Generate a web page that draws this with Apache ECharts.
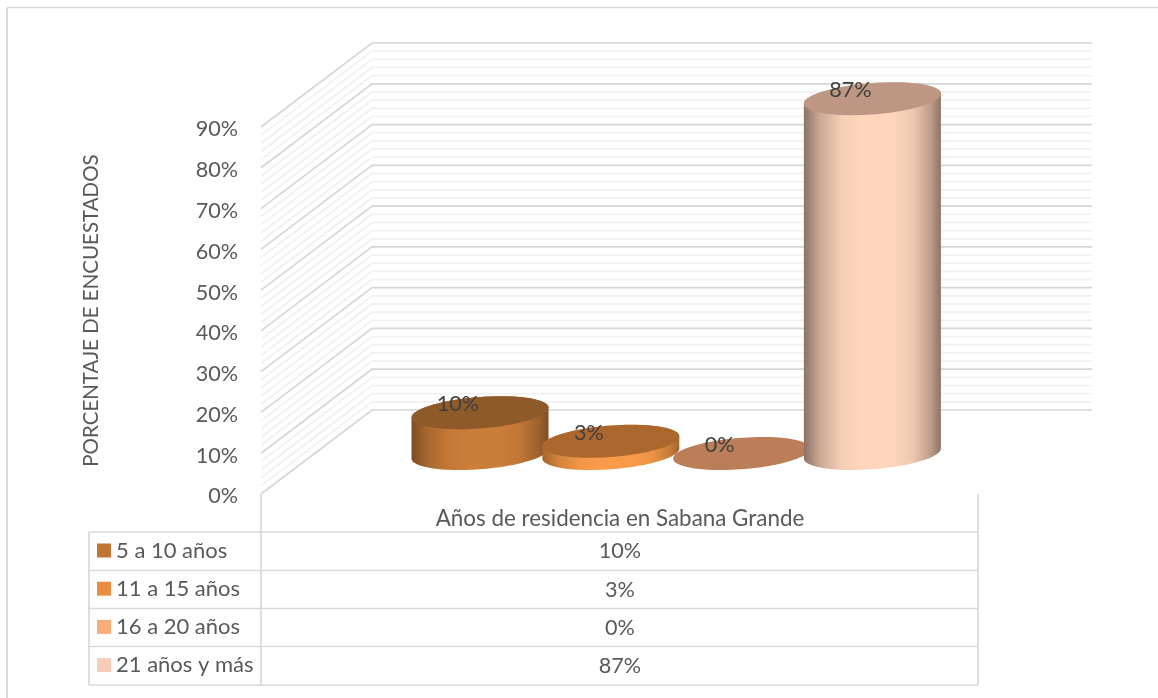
<!DOCTYPE html>
<html><head><meta charset="utf-8">
<style>html,body{margin:0;padding:0;background:#fff}#c{width:1158px;height:698px}</style>
<script src="https://cdn.jsdelivr.net/npm/echarts@6/dist/echarts.min.js"></script>
</head><body><div id="c"></div>
<script>
const seriesNames = ['5 a 10 años','11 a 15 años','16 a 20 años','21 años y más'];
const seriesValues = [10,3,0,87];
const slots = [0,1,2,3];
const gridValues = [];
for (let v=0;v<=90;v+=2) gridValues.push(v);
const axisTitle = 'PORCENTAJE DE ENCUESTADOS';
const categoryLabel = 'Años de residencia en Sabana Grande';

const legendColors = ['#c0752f','#ea8d40','#f7ac7a','#f8cbb8'];
const looks = [
  {top:'#8f5a2a', edge:'#7e4d22', mid:'#cb7d3a'},
  {top:'#ac672f', edge:'#a5652c', mid:'#f99b49'},
  {top:'#bb7e58', edge:'#bb7e58', mid:'#bb7e58'},
  {top:'#bd9784', edge:'#8d7264', mid:'#fed6bd'}
];
const FONT = 'Lato';
const TXT = '#595959';
const A = 68.7, B = 15.7, TILT = -4.4*Math.PI/180;
const DEPTH_Y = 40.5, WALL_DX = 111, WALL_DY = 84;
const SHADE = [[0,0],[.12,.55],[.28,.92],[.42,1],[.65,1],[.8,.85],[.93,.4],[1,0]];

function mix(a,b,t){
  const h=s=>[1,3,5].map(k=>parseInt(s.substr(k,2),16));
  const ca=h(a),cb=h(b);
  return 'rgb('+ca.map((v,i)=>Math.round(v+(cb[i]-v)*t)).join(',')+')';
}
function ellipsePts(cx,cy,from,to,n){
  const p=[];
  for(let i=0;i<=n;i++){
    const t=from+(to-from)*i/n;
    const x=A*Math.cos(t), y=B*Math.sin(t);
    p.push([cx+x*Math.cos(TILT)-y*Math.sin(TILT), cy+x*Math.sin(TILT)+y*Math.cos(TILT)]);
  }
  return p;
}

function cylinderSeries(i){
  return {
    type:'custom', name:seriesNames[i], coordinateSystem:'cartesian2d',
    z: (i===1||i===3)?4:3,
    itemStyle:{color:legendColors[i]},
    encode:{x:0,y:1},
    data:[[slots[i],seriesValues[i]]],
    clip:false,
    renderItem(params,api){
      const c0=api.coord([api.value(0),0]);
      const c1=api.coord([api.value(0),api.value(1)]);
      const cx=c0[0], by=c0[1]-DEPTH_Y, ty=c1[1]-DEPTH_Y;
      const L=looks[i];
      const children=[];
      if(by-ty>0.5){
        const t0=Math.atan2(-B*Math.sin(TILT),A*Math.cos(TILT));
        const lower=ellipsePts(cx,by,t0,t0+Math.PI,60);
        const upper=ellipsePts(cx,ty,t0+Math.PI,t0+2*Math.PI,60);
        children.push({type:'polygon',shape:{points:lower.concat(upper)},
          style:{fill:new echarts.graphic.LinearGradient(0,0,1,0,
            SHADE.map(s=>({offset:s[0],color:mix(L.edge,L.mid,s[1])})))}});
      }
      children.push({type:'polygon',shape:{points:ellipsePts(cx,ty,0,2*Math.PI,90)},style:{fill:L.top}});
      children.push({type:'text',z2:10,style:{text:seriesValues[i]+'%',x:cx-22,y:ty-8.5,align:'center',verticalAlign:'middle',
        fill:'#404040',font:'21.6px '+FONT}});
      return {type:'group',children};
    }
  };
}

const gridSeries = {
  type:'custom', name:'walls', coordinateSystem:'cartesian2d', silent:true, z:1, clip:false,
  encode:{y:0}, data:gridValues.map(v=>[v]),
  renderItem(params,api){
    const v=api.value(0);
    const cs=params.coordSys;
    const y=api.coord([0,v])[1];
    const major=v%10===0;
    return {type:'polyline',shape:{points:[[cs.x,y],[cs.x+WALL_DX,y-WALL_DY],[cs.x+cs.width,y-WALL_DY]]},
      style:{fill:null,stroke:major?'#d6d6d6':'#f1f1f1',lineWidth:major?1.7:1.8},z2:major?2:1};
  }
};

const tableRows=[532,570.5,608.5,646.5,685];
const LX=89,MX=261,RX=978;
const line=(x1,y1,x2,y2,w)=>({type:'line',shape:{x1,y1,x2,y2},style:{stroke:'#d9d9d9',lineWidth:w||1.7},silent:true});
const furniture=[
  line(7,7.5,1158,7.5,1.6),line(7,7.5,7,698,2),
  line(MX,494,MX,685),line(RX,494,RX,685),line(LX,532,LX,685),
  ...tableRows.map(y=>line(LX,y,RX,y)),
  {type:'text',style:{text:categoryLabel,x:620,y:518.5,align:'center',verticalAlign:'middle',fill:TXT,font:'22.4px '+FONT}},
  ...seriesValues.map((v,i)=>({type:'text',style:{text:v+'%',x:620,y:551.5+38.2*i,align:'center',verticalAlign:'middle',fill:TXT,font:'21.6px '+FONT}}))
];

const chart=echarts.init(document.getElementById('c'),null,{renderer:'canvas'});
chart.setOption({
  animation:false,backgroundColor:'#fff',
  textStyle:{fontFamily:FONT},
  grid:{left:261,top:127,width:831,height:367,containLabel:false},
  xAxis:{type:'value',min:-1.6743,max:4.679,show:false},
  yAxis:{type:'value',min:0,max:90,interval:10,
    name:axisTitle,nameLocation:'middle',nameGap:159,nameRotate:90,
    nameTextStyle:{color:TXT,fontSize:20.5,fontFamily:FONT},
    axisLine:{show:false},axisTick:{show:false},splitLine:{show:false},
    axisLabel:{margin:23,formatter:'{t|{value}%}',
      rich:{t:{color:TXT,fontSize:21.6,fontFamily:FONT,padding:[5,0,0,0]}}}},
  legend:{orient:'vertical',left:97,top:539.5,padding:0,icon:'rect',itemWidth:14,itemHeight:14,itemGap:16.2,
    data:seriesNames,selectedMode:false,
    textStyle:{color:TXT,fontSize:22,fontFamily:FONT}},
  graphic:{elements:furniture},
  series:[gridSeries,...[0,2,1,3].map(cylinderSeries)]
});
</script></body></html>
